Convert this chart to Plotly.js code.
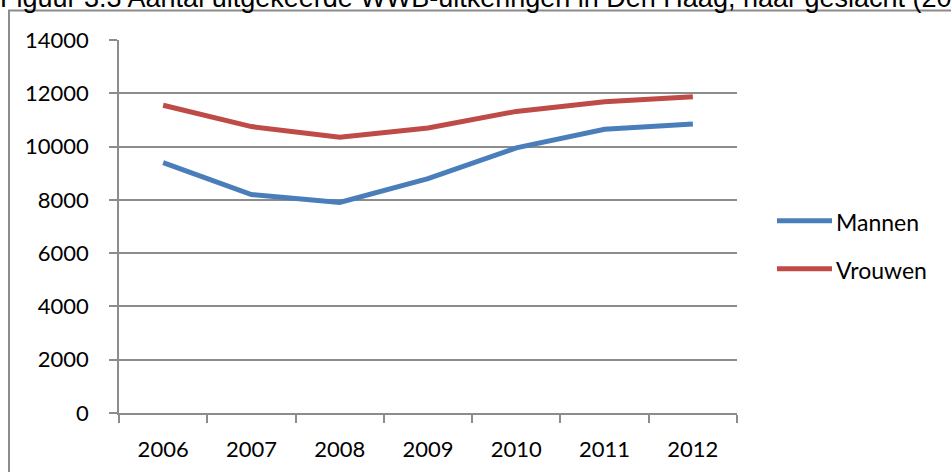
<!DOCTYPE html>
<html>
<head>
<meta charset="utf-8">
<script src="https://cdn.plot.ly/plotly-3.0.1.min.js"></script>
<style>html,body{margin:0;padding:0;background:#fff;}#chart{width:951px;height:472px;}</style>
</head>
<body>
<div id="chart"></div>
<script>
const years = ["2006", "2007", "2008", "2009", "2010", "2011", "2012"];
const mannen = [9400, 8200, 7900, 8800, 9950, 10650, 10850];
const vrouwen = [11550, 10750, 10350, 10700, 11320, 11680, 11870];
const seriesNames = ["Mannen", "Vrouwen"];
const seriesColors = ["#4a7ebb", "#be4b48"];
const titleText = "Figuur 3.3 Aantal uitgekeerde WWB-uitkeringen in Den Haag, naar geslacht (2006-2012)";

const W = 951, H = 472;
const L = 119, R = 737, T = 40, B = 413.5;
const px2x = p => (p - L) / (R - L);
const py2y = p => (B - p) / (B - T);
const gridCol = "#8c8c8c";
const tickFont = {family: "Lato, 'Open Sans', sans-serif", size: 22, color: "#000"};
const legFont = {family: "Lato, 'Open Sans', sans-serif", size: 23, color: "#000"};

const traces = [
  {x: years, y: mannen, name: seriesNames[0], type: "scatter", mode: "lines",
   line: {color: seriesColors[0], width: 5}},
  {x: years, y: vrouwen, name: seriesNames[1], type: "scatter", mode: "lines",
   line: {color: seriesColors[1], width: 5}}
];

// legend (drawn as shapes + text)
const legendRows = [221, 269];
const legendShapes = seriesNames.map((n, i) => ({
  type: "line", xref: "paper", yref: "paper",
  x0: px2x(777), x1: px2x(832), y0: py2y(legendRows[i]), y1: py2y(legendRows[i]),
  line: {color: seriesColors[i], width: 5}
}));
const legendTexts = seriesNames.map((n, i) => ({
  text: n, xref: "paper", yref: "paper", x: px2x(835), y: py2y(legendRows[i] + 1),
  xanchor: "left", yanchor: "middle", showarrow: false, font: legFont, borderpad: 0
}));

const layout = {
  width: W, height: H,
  margin: {l: L, r: W - R, t: T, b: H - B, pad: 0},
  paper_bgcolor: "#fff", plot_bgcolor: "#fff",
  title: {text: titleText, font: {family: "'Liberation Sans', Arial, sans-serif", size: 27, color: "#000"},
          x: 0, xref: "container", xanchor: "left", y: 1 - 7 / H, yref: "container", yanchor: "bottom", pad: {t: 0, b: 0, l: 0, r: 0}},
  xaxis: {type: "category", range: [-0.5, 6.5], showline: true, linecolor: gridCol, linewidth: 1.5,
          ticks: "outside", tickson: "boundaries", ticklen: 8, tickcolor: gridCol, tickwidth: 1.5,
          showgrid: false, zeroline: false, tickfont: tickFont, ticklabelstandoff: 16, fixedrange: true},
  yaxis: {range: [0, 14000], dtick: 2000, tick0: 0, showline: true, linecolor: gridCol, linewidth: 1.5,
          ticks: "outside", ticklen: 8, tickcolor: gridCol, tickwidth: 1.5,
          showgrid: true, gridcolor: gridCol, gridwidth: 1.5, zeroline: false,
          tickfont: tickFont, ticklabelstandoff: 16, tickformat: "d", fixedrange: true},
  showlegend: false,
  annotations: legendTexts,
  shapes: [
    {type: "rect", xref: "paper", yref: "paper", x0: px2x(9), x1: px2x(1000), y0: py2y(520), y1: py2y(10.5),
     line: {color: gridCol, width: 2}, fillcolor: "rgba(0,0,0,0)", layer: "below"}
  ].concat(legendShapes)
};

Plotly.newPlot("chart", traces, layout, {displayModeBar: false});
</script>
</body>
</html>
